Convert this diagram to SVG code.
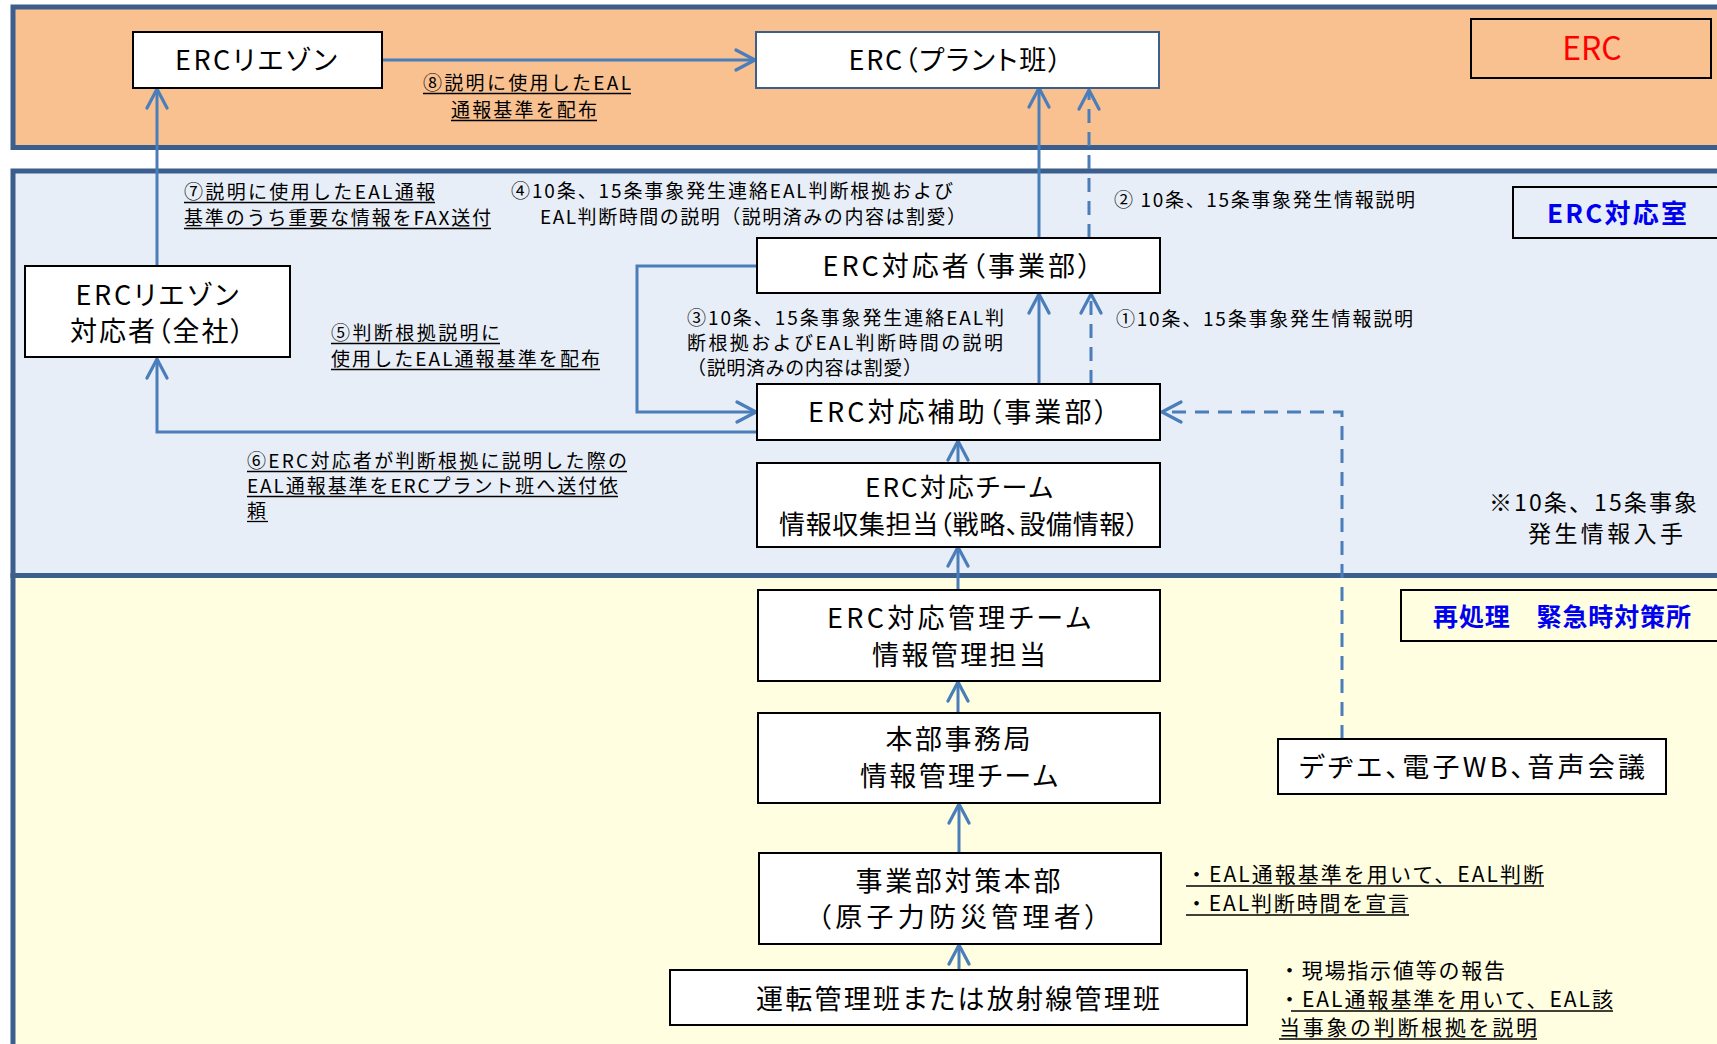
<svg xmlns="http://www.w3.org/2000/svg" width="1717" height="1044" viewBox="0 0 1717 1044">
<style>
text{font-family:"Noto Sans CJK JP","Noto Sans",sans-serif;}
.panel{stroke:#3B5E8C;stroke-width:5;}
.box{fill:#FFFFFF;stroke:#000000;stroke-width:2;}
.bt{font-size:27px;fill:#000;text-anchor:middle;font-feature-settings:"palt";}
.lb{font-size:19px;fill:#000;}
.note{font-size:23px;fill:#000;}
.bl{font-size:21px;fill:#000;}
.tag{font-size:26px;font-weight:bold;fill:#0000F0;text-anchor:middle;}
.c{fill:none;stroke:#4A7EBB;stroke-width:3;}
.d{stroke-dasharray:14 9;}
.ul{stroke:#000;stroke-width:1.3;}
</style>
<defs>
<marker id="ah" viewBox="-22 -12 26 24" refX="0" refY="0" markerWidth="26" markerHeight="24" markerUnits="userSpaceOnUse" orient="auto">
<path d="M-19,-10 L0,0 L-19,10" fill="none" stroke="#4A7EBB" stroke-width="3.2" stroke-linecap="round" stroke-linejoin="round" stroke-dasharray="none"/>
</marker>
</defs>

<g id="panels">
<rect id="panel-erc" class="panel" x="13" y="7" width="1730" height="140.5" fill="#F9C090"/>
<rect id="panel-plant" class="panel" x="13" y="575.5" width="1730" height="520" fill="#FFFEE0"/>
<rect id="panel-room" class="panel" x="13" y="171" width="1730" height="404.5" fill="#E8EEF7"/>
</g>

<g id="connectors">
<line class="c" x1="382" y1="60" x2="755" y2="60" marker-end="url(#ah)"/>
<line class="c" x1="157" y1="266" x2="157" y2="89" marker-end="url(#ah)"/>
<line class="c" x1="1039" y1="238" x2="1039" y2="88" marker-end="url(#ah)"/>
<line class="c d" x1="1089" y1="238" x2="1089" y2="90" marker-end="url(#ah)"/>
<line class="c" x1="1039" y1="384" x2="1039" y2="294" marker-end="url(#ah)"/>
<line class="c d" x1="1091" y1="384" x2="1091" y2="294" marker-end="url(#ah)"/>
<polyline class="c" points="757,266 637,266 637,412 756,412" marker-end="url(#ah)"/>
<polyline class="c" points="757,432 157,432 157,359" marker-end="url(#ah)"/>
<polyline class="c d" points="1342,739 1342,412 1162,412" marker-end="url(#ah)"/>
<line class="c" x1="958" y1="463" x2="958" y2="441" marker-end="url(#ah)"/>
<line class="c" x1="958" y1="590" x2="958" y2="547" marker-end="url(#ah)"/>
<line class="c" x1="958" y1="713" x2="958" y2="682" marker-end="url(#ah)"/>
<line class="c" x1="959" y1="853" x2="959" y2="804" marker-end="url(#ah)"/>
<line class="c" x1="959" y1="970" x2="959" y2="945" marker-end="url(#ah)"/>
</g>

<g id="tag-erc">
<rect x="1471" y="19" width="240" height="59" fill="none" stroke="#000" stroke-width="2"/>
<text x="1592" y="60" font-family="Liberation Sans, Arial, sans-serif" font-size="32" fill="#FF0000" text-anchor="middle">ERC</text>
</g>
<g id="tag-room">
<rect x="1513" y="187" width="220" height="51" fill="none" stroke="#000" stroke-width="2"/>
<text class="tag" x="1617" y="223" textLength="140">ERC対応室</text>
</g>
<g id="tag-plant">
<rect x="1401" y="590" width="330" height="51" fill="none" stroke="#000" stroke-width="2"/>
<text class="tag" x="1562" y="626" textLength="258" style="font-size:25px">再処理　緊急時対策所</text>
</g>

<g id="node-erc-liaison">
<rect class="box" x="133" y="32" width="249" height="56"/>
<text class="bt" x="256" y="70" textLength="162">ERCリエゾン</text>
</g>
<g id="node-erc-plant">
<rect class="box" x="756" y="32" width="403" height="56" style="stroke:#3B5E8C"/>
<text class="bt" x="955" y="70" textLength="213">ERC（プラント班）</text>
</g>
<g id="node-erc-responder">
<rect class="box" x="757" y="238" width="403" height="55"/>
<text class="bt" x="957" y="276" textLength="269">ERC対応者（事業部）</text>
</g>
<g id="node-liaison-company">
<rect class="box" x="25" y="266" width="265" height="91"/>
<text class="bt" x="157" y="305" textLength="163">ERCリエゾン</text>
<text class="bt" x="157" y="341" textLength="174">対応者（全社）</text>
</g>
<g id="node-erc-assist">
<rect class="box" x="757" y="384" width="403" height="56"/>
<text class="bt" x="958" y="422" textLength="300">ERC対応補助（事業部）</text>
</g>
<g id="node-erc-team">
<rect class="box" x="757" y="463" width="403" height="84"/>
<text class="bt" x="959" y="497" textLength="188" style="font-size:26px">ERC対応チーム</text>
<text class="bt" x="959" y="534" textLength="360" style="font-size:26px">情報収集担当（戦略、設備情報）</text>
</g>
<g id="node-erc-mgmt">
<rect class="box" x="758" y="590" width="402" height="91"/>
<text class="bt" x="959" y="628" textLength="264">ERC対応管理チーム</text>
<text class="bt" x="959" y="665" textLength="174">情報管理担当</text>
</g>
<g id="node-hq-office">
<rect class="box" x="758" y="713" width="402" height="90"/>
<text class="bt" x="958" y="749" textLength="145">本部事務局</text>
<text class="bt" x="959" y="786" textLength="198">情報管理チーム</text>
</g>
<g id="node-tools">
<rect class="box" x="1278" y="739" width="388" height="55"/>
<text class="bt" x="1472" y="777" textLength="346">デヂエ、電子WB、音声会議</text>
</g>
<g id="node-division-hq">
<rect class="box" x="759" y="853" width="402" height="91"/>
<text class="bt" x="958" y="891" textLength="205">事業部対策本部</text>
<text class="bt" x="958" y="927" textLength="281">（原子力防災管理者）</text>
</g>
<g id="node-operation">
<rect class="box" x="670" y="970" width="577" height="55"/>
<text class="bt" x="958" y="1009" textLength="404">運転管理班または放射線管理班</text>
</g>

<g id="labels">
<text class="lb" x="423" y="90" textLength="208">⑧説明に使用したEAL</text>
<text class="lb" x="451" y="117" textLength="146">通報基準を配布</text>
<text class="lb" x="184" y="199" textLength="251">⑦説明に使用したEAL通報</text>
<text class="lb" x="184" y="225" textLength="307">基準のうち重要な情報をFAX送付</text>
<text class="lb" x="511" y="198" textLength="442">④10条、15条事象発生連絡EAL判断根拠および</text>
<text class="lb" x="540" y="224" textLength="426">EAL判断時間の説明（説明済みの内容は割愛）</text>
<text class="lb" x="1114" y="207" textLength="301">② 10条、15条事象発生情報説明</text>
<text class="lb" x="687" y="325" textLength="317">③10条、15条事象発生連絡EAL判</text>
<text class="lb" x="687" y="350" textLength="316">断根拠およびEAL判断時間の説明</text>
<text class="lb" x="687" y="375" textLength="235">（説明済みの内容は割愛）</text>
<text class="lb" x="1116" y="326" textLength="297">①10条、15条事象発生情報説明</text>
<text class="lb" x="331" y="340" textLength="169">⑤判断根拠説明に</text>
<text class="lb" x="331" y="366" textLength="269">使用したEAL通報基準を配布</text>
<text class="lb" x="247" y="468" textLength="380">⑥ERC対応者が判断根拠に説明した際の</text>
<text class="lb" x="247" y="493" textLength="371">EAL通報基準をERCプラント班へ送付依</text>
<text class="lb" x="247" y="518">頼</text>
<text class="note" x="1489" y="511" textLength="208">※10条、15条事象</text>
<text class="note" x="1528" y="542" textLength="155">発生情報入手</text>
<text class="bl" x="1186" y="882" textLength="358">・EAL通報基準を用いて、EAL判断</text>
<text class="bl" x="1186" y="911" textLength="223">・EAL判断時間を宣言</text>
<text class="bl" x="1279" y="978" textLength="226">・現場指示値等の報告</text>
<text class="bl" x="1279" y="1007" textLength="334">・EAL通報基準を用いて、EAL該</text>
<text class="bl" x="1279" y="1035" textLength="258">当事象の判断根拠を説明</text>
</g>
<g id="underlines">
<line class="ul" x1="423" y1="93.5" x2="631" y2="93.5"/>
<line class="ul" x1="451" y1="120.5" x2="597" y2="120.5"/>
<line class="ul" x1="184" y1="202.5" x2="435" y2="202.5"/>
<line class="ul" x1="184" y1="228.5" x2="491" y2="228.5"/>
<line class="ul" x1="331" y1="343.5" x2="500" y2="343.5"/>
<line class="ul" x1="331" y1="369.5" x2="600" y2="369.5"/>
<line class="ul" x1="247" y1="471.5" x2="627" y2="471.5"/>
<line class="ul" x1="247" y1="496.5" x2="618" y2="496.5"/>
<line class="ul" x1="247" y1="521.5" x2="268" y2="521.5"/>
<line class="ul" x1="1186" y1="886" x2="1544" y2="886"/>
<line class="ul" x1="1186" y1="915" x2="1409" y2="915"/>
<line class="ul" x1="1291" y1="1011" x2="1613" y2="1011"/>
<line class="ul" x1="1279" y1="1039" x2="1537" y2="1039"/>
</g>
</svg>
